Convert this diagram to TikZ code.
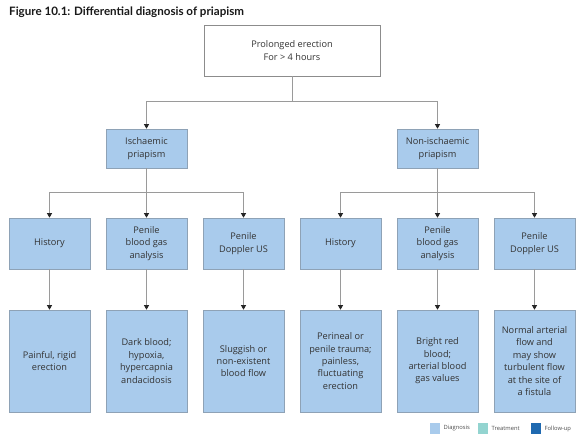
\documentclass[tikz,border=0pt]{standalone}
\usepackage{fontspec}
\setmainfont{Open Sans}
\newfontfamily\titlefont{Lato}
\usetikzlibrary{arrows.meta}
\definecolor{boxfill}{HTML}{A9CBEC}
\definecolor{boxline}{HTML}{8EA2B6}
\definecolor{txt}{HTML}{333333}
\definecolor{conncol}{HTML}{9A9A9A}
\definecolor{treat}{HTML}{93D4D0}
\definecolor{follow}{HTML}{1F69B0}
\begin{document}
\begin{tikzpicture}[x=1pt,y=-1pt,
  every node/.style={text=txt, font=\fontsize{9.2}{12.4}\selectfont, align=center, inner sep=0pt},
  bluebox/.style={draw=boxline, fill=boxfill, line width=0.6pt, minimum width=81pt},
  rowtwo/.style={bluebox, minimum height=39pt},
  rowthree/.style={bluebox, minimum height=51pt},
  rowfour/.style={bluebox, minimum height=102pt},
  arr/.style={draw=conncol, line width=0.7pt, -{Triangle[width=5pt,length=4.5pt,color=black!85]}},
  legsq/.style={minimum width=10pt, minimum height=11pt, inner sep=0pt},
  legtxt/.style={font=\fontsize{5.8}{7}\selectfont, anchor=west, text=black!70}
]
\useasboundingbox (0,0) rectangle (583,444);
\fill[white] (0,0) rectangle (583,444);
\node[anchor=base west, font=\titlefont\bfseries\fontsize{11.6}{13}\selectfont, text=black!90] (title) at (9,15.5) {Figure 10.1: Differential diagnosis of priapism};

\node[draw=black!45, fill=white, line width=0.6pt, minimum width=176pt, minimum height=51pt] (top) at (292,50.5) {Prolonged erection\\For > 4 hours};

\node[rowtwo] (isch) at (146.5,148.5) {Ischaemic\\priapism};
\node[rowtwo] (non) at (437.5,148.5) {Non-ischaemic\\priapism};

\node[rowthree] (h1) at (49.5,243.5) {History};
\node[rowthree] (b1) at (146.5,243.5) {Penile\\blood gas\\analysis};
\node[rowthree] (d1) at (243.5,243.5) {Penile\\Doppler US};
\node[rowthree] (h2) at (340.5,243.5) {History};
\node[rowthree] (b2) at (437.5,243.5) {Penile\\blood gas\\analysis};
\node[rowthree] (d2) at (534.5,243.5) {Penile\\Doppler US};

\node[rowfour] (r1) at (49.5,361) {Painful, rigid\\erection};
\node[rowfour] (r2) at (146.5,361) {Dark blood;\\hypoxia,\\hypercapnia\\andacidosis};
\node[rowfour] (r3) at (243.5,361) {Sluggish or\\non-existent\\blood flow};
\node[rowfour] (r4) at (340.5,361) {Perineal or\\penile trauma;\\painless,\\fluctuating\\erection};
\node[rowfour] (r5) at (437.5,361) {Bright red\\blood;\\arterial blood\\gas values};
\node[rowfour] (r6) at (534.5,361) {Normal arterial\\flow and\\may show\\turbulent flow\\at the site of\\a fistula};

\coordinate (j0) at (292,101);
\coordinate (j1) at (146.5,192);
\coordinate (j2) at (437.5,192);

\draw[arr] (top.south) -- (j0) -| (isch.north);
\draw[arr] (j0) -| (non.north);

\draw[arr] (isch.south) -- (j1) -| (h1.north);
\draw[arr] (j1) -- (b1.north);
\draw[arr] (j1) -| (d1.north);
\draw[arr] (non.south) -- (j2) -| (h2.north);
\draw[arr] (j2) -- (b2.north);
\draw[arr] (j2) -| (d2.north);

\draw[arr] (h1) -- (r1);
\draw[arr] (b1) -- (r2);
\draw[arr] (d1) -- (r3);
\draw[arr] (h2) -- (r4);
\draw[arr] (b2) -- (r5);
\draw[arr] (d2) -- (r6);

\node[legsq, fill=boxfill] (l1) at (435,428.5) {};
\node[legtxt] (l1t) at (443.5,428.5) {Diagnosis};
\node[legsq, fill=treat] (l2) at (483,428.5) {};
\node[legtxt] (l2t) at (491.5,428.5) {Treatment};
\node[legsq, fill=follow] (l3) at (536,428.5) {};
\node[legtxt] (l3t) at (544.5,428.5) {Follow-up};
\end{tikzpicture}
\end{document}
